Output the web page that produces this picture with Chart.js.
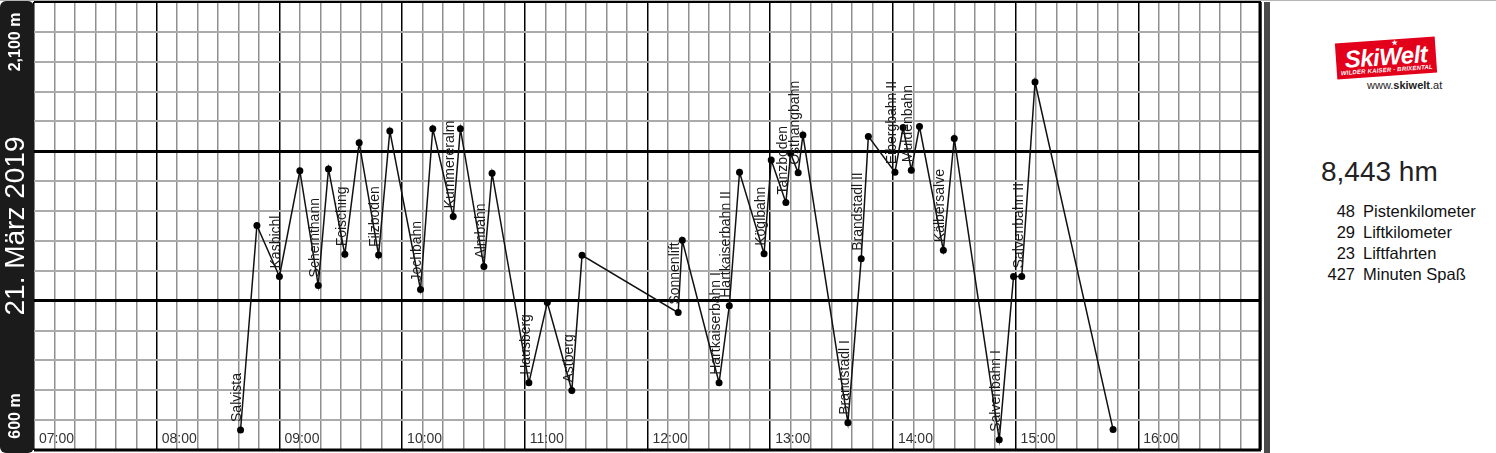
<!DOCTYPE html>
<html>
<head>
<meta charset="utf-8">
<script src="https://cdn.jsdelivr.net/npm/chart.js@4.4.1/dist/chart.umd.min.js"></script>
<style>
  html, body { margin: 0; padding: 0; background: #fff; }
  body { width: 1496px; height: 453px; position: relative; overflow: hidden; font-family: "Liberation Sans", Arial, sans-serif; }
  #topline { position: absolute; left: 0; top: 0; width: 1496px; height: 1px; background: #b5b5b5; }
  #wrap { position: absolute; left: 0; top: 0; width: 1262px; height: 453px; }
  #sidebar { position: absolute; left: 1264px; top: 2px; width: 6px; height: 451px; background: #4a4a4a; }
  #logo { position: absolute; left: 1336px; top: 40px; width: 100px; height: 36px; background: #e2001a; transform: rotate(-4deg); color: #fff; font-style: italic; font-weight: bold; text-align: center; }
  #logo .big { position: absolute; left: 0; width: 100%; top: 5px; font-size: 24px; line-height: 24px; letter-spacing: -0.5px; }
  #logo .small { position: absolute; left: 0; width: 100%; top: 27px; font-size: 6px; line-height: 6px; letter-spacing: 0.2px; }
  #logo .star { position: absolute; left: 56px; top: 0px; font-size: 8px; line-height: 8px; font-style: normal; font-family: "DejaVu Sans", sans-serif; }
  #url { position: absolute; left: 1367px; top: 79px; font-size: 11px; line-height: 12px; color: #222; }
  #hm { position: absolute; left: 1321px; top: 158px; font-size: 28px; line-height: 28px; color: #222; }
  #stats { position: absolute; left: 1300px; top: 201px; font-size: 16.5px; line-height: 21px; color: #111; }
  #stats .row { position: relative; height: 21px; white-space: nowrap; }
  #stats .num { position: absolute; left: -5px; width: 60px; text-align: right; }
  #stats .lbl { position: absolute; left: 63px; }
</style>
</head>
<body>
<div id="wrap"><canvas id="c" width="1262" height="453"></canvas></div>
<div id="topline"></div>
<div id="sidebar"></div>
<div id="logo"><span class="star">★</span><div class="big">SkiWelt</div><div class="small">WILDER KAISER · BRIXENTAL</div></div>
<div id="url">www.<b>skiwelt</b>.at</div>
<div id="hm"></div>
<div id="stats"></div>
<script>
// ---- data ----
const dateLabel = "21. März 2019";
const axisMinLabel = "600 m";
const axisMaxLabel = "2,100 m";
const hourLabels = ["07:00","08:00","09:00","10:00","11:00","12:00","13:00","14:00","15:00","16:00"];

const pointTimes = [
  "08:41","08:49","09:00","09:10","09:19","09:24","09:32","09:39","09:48:30","09:54",
  "10:09","10:15","10:25","10:28:30","10:40","10:44","11:02","11:11","11:23","11:28",
  "12:15","12:17","12:35","12:40","12:45","12:57","13:00:30","13:07:40","13:10","13:13:40",
  "13:16","13:38","13:44:30","13:48","14:01","14:05","14:09","14:13","14:24:40","14:30",
  "14:52","14:59","15:03","15:09:30","15:47:40"
];
const pointElevations = [
  667,1352,1181,1535,1151,1541,1255,1629,1253,1668,
  1137,1676,1382,1676,1214,1527,825,1094,799,1252,
  1060,1302,825,1083,1530,1257,1571,1429,1593,1528,
  1655,691,1240,1650,1530,1680,1537,1683,1269,1643,
  634,1181,1181,1832,669
];

const liftNames = ["Salvista","Kasbichl","Schernthann","Foisching","Filzboden","Jochbahn","Kummereralm","Almbahn",
  "Hausberg","Astberg","Sonnenlift","Hartkaiserbahn I","Hartkaiserbahn II","Köglbahn","Tanzboden","Osthangbahn",
  "Brandstadl I","Brandstadl II","Eibergbahn II","Muldenbahn","Kälbersalve","Salvenbahn I","Salvenbahn II"];
const liftStartPoint = [0,2,4,6,8,10,12,14,16,18,20,22,23,25,27,29,31,32,34,36,38,40,42];

const totalHm = "8,443 hm";
const statValues = ["48","29","23","427"];
const statLabels = ["Pistenkilometer","Liftkilometer","Liftfahrten","Minuten Spaß"];

// ---- helpers ----
function toMin(t) { const p = t.split(":").map(Number); return p[0]*60 + p[1] + (p[2]||0)/60; }
const FONT = '"Liberation Sans", Arial, sans-serif';

document.getElementById('hm').textContent = totalHm;
const stats = document.getElementById('stats');
statValues.forEach((v, i) => {
  const row = document.createElement('div'); row.className = 'row';
  const n = document.createElement('span'); n.className = 'num'; n.textContent = v;
  const l = document.createElement('span'); l.className = 'lbl'; l.textContent = statLabels[i];
  row.appendChild(n); row.appendChild(l); stats.appendChild(row);
});

const dataPoints = pointTimes.map((t, i) => ({x: toMin(t), y: pointElevations[i]}));

const decorPlugin = {
  id: 'decor',
  beforeDatasetsDraw(chart) {
    const {ctx, chartArea: a} = chart;
    ctx.save();
    ctx.strokeStyle = '#000';
    ctx.lineWidth = 2;
    ctx.beginPath(); ctx.moveTo(a.left, a.top); ctx.lineTo(a.right, a.top); ctx.stroke();
    ctx.lineWidth = 3;
    ctx.beginPath(); ctx.moveTo(a.right - 1, a.top); ctx.lineTo(a.right - 1, a.bottom); ctx.stroke();
    ctx.beginPath(); ctx.moveTo(a.left, a.bottom); ctx.lineTo(a.right, a.bottom); ctx.stroke();
    const xs = chart.scales.x;
    ctx.fillStyle = '#333';
    ctx.font = '14px ' + FONT;
    ctx.textAlign = 'left';
    ctx.textBaseline = 'alphabetic';
    hourLabels.forEach(lbl => {
      const x = xs.getPixelForValue(toMin(lbl));
      ctx.fillText(lbl, x + 5, a.bottom - 7);
    });
    ctx.restore();
  },
  afterDatasetsDraw(chart) {
    const {ctx} = chart;
    const meta = chart.getDatasetMeta(0);
    ctx.save();
    ctx.fillStyle = '#1a1a1a';
    ctx.font = '14px ' + FONT;
    ctx.textAlign = 'left';
    ctx.textBaseline = 'middle';
    liftNames.forEach((name, i) => {
      const el = meta.data[liftStartPoint[i]];
      ctx.save();
      ctx.translate(el.x - 3, el.y - 8);
      ctx.rotate(-Math.PI / 2);
      ctx.fillText(name, 0, 0);
      ctx.restore();
    });
    ctx.restore();
  },
  afterDraw(chart) {
    const {ctx, chartArea: a} = chart;
    const w = a.left;
    const h = chart.height;
    ctx.save();
    ctx.fillStyle = '#1b1b1b';
    ctx.beginPath();
    ctx.roundRect(0, 1, w, h - 1, 6);
    ctx.fill();
    ctx.fillStyle = '#fff';
    ctx.textAlign = 'center';
    ctx.textBaseline = 'middle';
    function vtext(txt, font, cx, cy) {
      ctx.save(); ctx.translate(cx, cy); ctx.rotate(-Math.PI/2);
      ctx.font = font; ctx.fillText(txt, 0, 0); ctx.restore();
    }
    vtext(dateLabel, '28px ' + FONT, 16, (a.top + a.bottom) / 2);
    vtext(axisMinLabel, 'bold 16px ' + FONT, 16, a.bottom - 34);
    vtext(axisMaxLabel, 'bold 16px ' + FONT, 16, a.top + 40);
    ctx.restore();
  }
};

new Chart(document.getElementById('c'), {
  type: 'line',
  data: {
    datasets: [{
      data: dataPoints,
      borderColor: '#111',
      borderWidth: 1.5,
      tension: 0,
      pointRadius: 3.5,
      pointBackgroundColor: '#000',
      pointBorderColor: '#000',
      pointBorderWidth: 0
    }]
  },
  options: {
    responsive: false,
    animation: false,
    layout: { autoPadding: false, padding: { left: 34, top: 2, right: 1, bottom: 3 } },
    plugins: { legend: { display: false }, tooltip: { enabled: false } },
    scales: {
      x: {
        type: 'linear', min: 420, max: 1020,
        ticks: { display: false, stepSize: 10, maxTicksLimit: 200 },
        grid: {
          drawTicks: false,
          color: c => (Math.round(c.tick.value) % 60 === 0) ? '#000' : '#8f8f8f',
          lineWidth: 1.5
        },
        border: { display: false }
      },
      y: {
        type: 'linear', min: 600, max: 2100,
        ticks: { display: false, stepSize: 100, maxTicksLimit: 200 },
        grid: {
          drawTicks: false,
          color: c => (c.tick.value === 1100 || c.tick.value === 1600) ? '#000' : '#ababab',
          lineWidth: c => (c.tick.value === 1100 || c.tick.value === 1600) ? 3 : 2
        },
        border: { display: false }
      }
    }
  },
  plugins: [decorPlugin]
});
</script>
</body>
</html>
